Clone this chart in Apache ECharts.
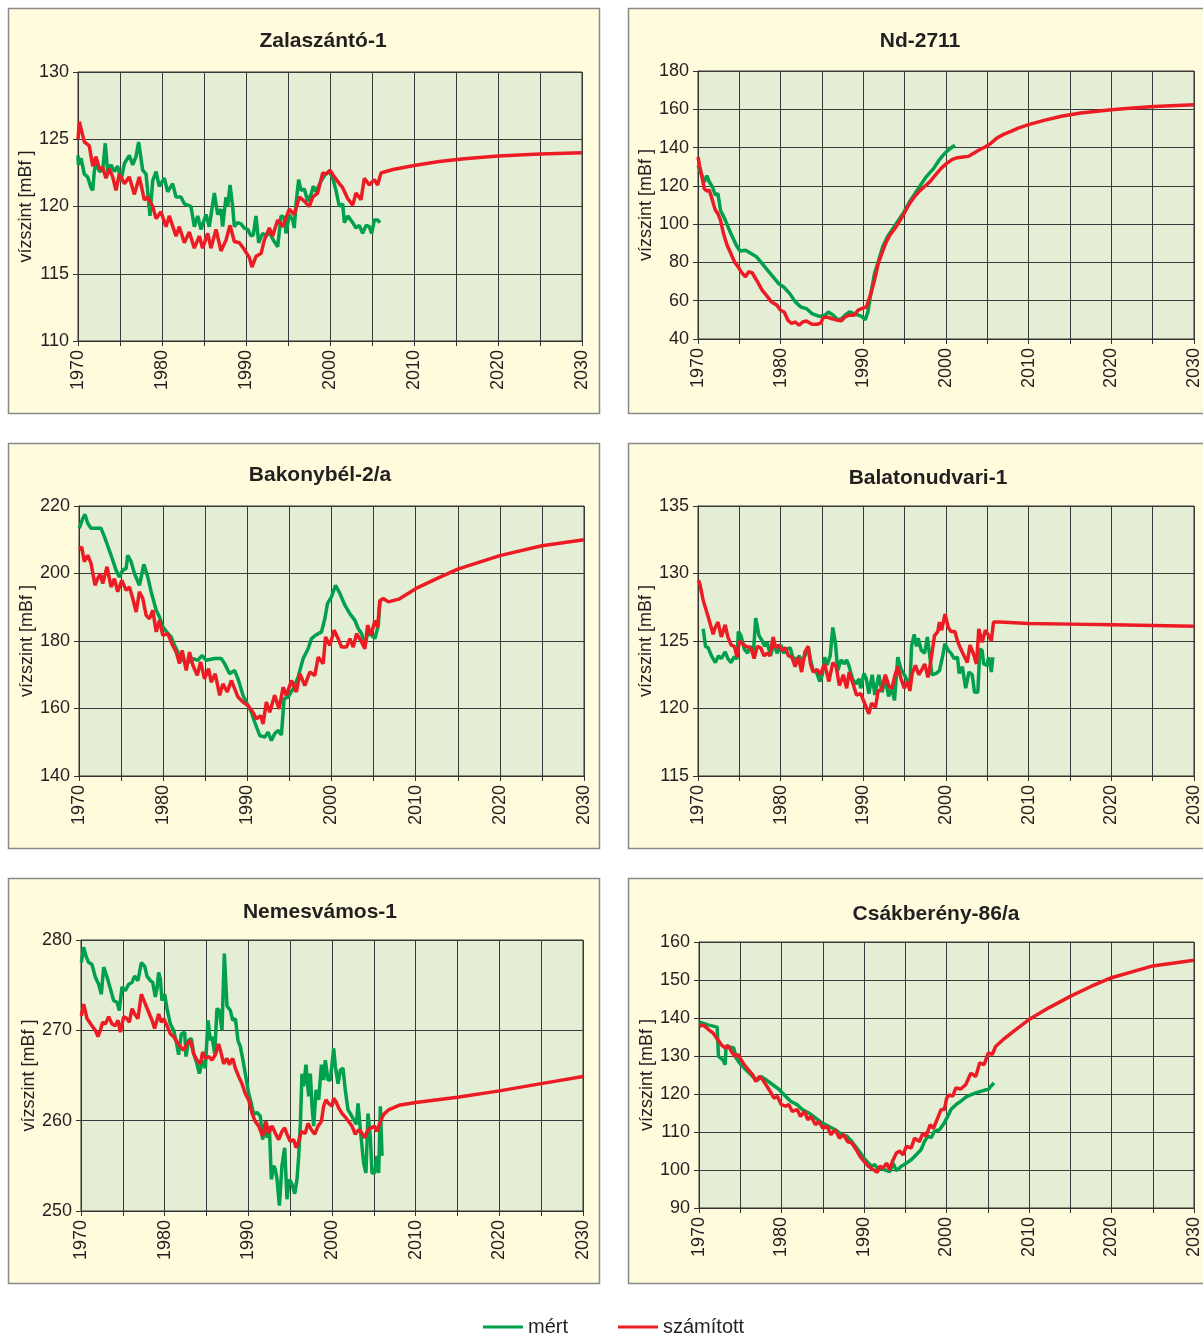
<!DOCTYPE html>
<html><head><meta charset="utf-8">
<script src="https://cdn.jsdelivr.net/npm/echarts@6.0.0/dist/echarts.min.js"></script>
<style>html,body{margin:0;padding:0;background:#fff}#c{width:1203px;height:1334px}</style>
</head><body><div id="c"></div>
<script>
// ---------- DATA: [year, water level in mBf] ----------
const xTicks = [1970, 1980, 1990, 2000, 2010, 2020, 2030];
const seriesNames = ['mért', 'számított'];
const panelTitles = ['Zalaszántó-1', 'Nd-2711', 'Bakonybél-2/a', 'Balatonudvari-1', 'Nemesvámos-1', 'Csákberény-86/a'];
const yRanges = [[110,130,5],[40,180,20],[140,220,20],[115,135,5],[250,280,10],[90,160,10]];

const zalaszantoMert = [[1970.0,123.8],[1970.05,123.1],[1970.36,123.6],[1970.75,122.4],[1971.15,122.2],[1971.55,121.4],[1971.75,121.2],[1971.94,122.6],[1972.14,123.3],[1972.54,122.6],[1972.94,122.7],[1973.25,124.7],[1973.53,122.6],[1973.93,123.1],[1974.33,122.6],[1974.72,123.0],[1975.12,121.9],[1975.52,123.2],[1976.11,123.8],[1976.51,123.1],[1976.90,123.7],[1977.22,124.8],[1977.70,122.7],[1978.10,122.4],[1978.57,119.3],[1978.89,121.9],[1979.29,122.6],[1979.68,121.5],[1980.28,122.1],[1980.67,121.1],[1981.27,121.7],[1981.67,120.7],[1982.26,120.7],[1982.66,120.2],[1983.06,120.1],[1983.45,120.0],[1983.85,118.5],[1984.25,119.3],[1984.64,118.3],[1985.24,119.4],[1985.63,118.5],[1986.23,121.0],[1986.63,119.4],[1987.02,119.8],[1987.22,118.5],[1987.62,120.7],[1987.82,120.0],[1988.10,121.6],[1988.41,120.0],[1988.61,118.5],[1989.01,118.8],[1989.40,118.7],[1989.80,118.4],[1990.20,118.3],[1990.60,117.8],[1990.87,117.9],[1991.19,119.3],[1991.51,117.3],[1991.98,118.0],[1992.38,117.8],[1992.78,118.1],[1993.17,117.6],[1993.77,117.0],[1994.17,119.3],[1994.56,119.2],[1994.76,118.0],[1995.16,119.4],[1995.56,119.0],[1995.75,118.4],[1995.95,120.2],[1996.27,122.0],[1996.55,121.2],[1996.94,121.3],[1997.34,120.4],[1997.74,120.9],[1998.02,121.5],[1998.33,121.1],[1998.93,121.9],[1999.44,122.4],[1999.92,122.6],[2000.32,122.1],[2000.71,121.2],[2001.11,120.0],[2001.51,120.2],[2001.71,118.8],[2002.10,119.3],[2002.70,118.8],[2003.10,118.4],[2003.49,118.6],[2003.89,118.0],[2004.29,118.6],[2004.68,118.5],[2004.96,118.0],[2005.28,119.0],[2005.67,119.0],[2005.95,118.8]];
const zalaszantoSzamitott = [[1970.0,125.0],[1970.16,126.3],[1970.75,124.8],[1971.35,124.5],[1971.75,123.0],[1972.14,123.7],[1972.54,122.8],[1972.94,122.9],[1973.33,122.1],[1973.73,122.8],[1974.13,122.2],[1974.52,121.2],[1974.92,122.4],[1975.52,121.7],[1976.11,122.2],[1976.71,120.9],[1977.30,122.2],[1977.90,120.5],[1978.29,120.7],[1978.89,120.0],[1979.29,119.1],[1979.88,119.6],[1980.48,118.5],[1980.87,119.3],[1981.67,117.8],[1982.06,118.5],[1982.66,117.3],[1983.25,118.1],[1983.85,116.9],[1984.44,117.8],[1984.84,116.9],[1985.44,118.0],[1985.83,116.9],[1986.43,118.3],[1987.02,116.7],[1987.62,117.5],[1988.10,118.6],[1988.61,117.4],[1989.21,117.3],[1989.80,116.8],[1990.40,116.2],[1990.71,115.5],[1991.19,116.3],[1991.79,116.5],[1992.18,117.5],[1992.78,118.4],[1993.17,117.8],[1993.77,119.0],[1994.37,118.5],[1995.16,119.8],[1995.75,119.4],[1996.35,120.7],[1996.94,120.4],[1997.54,120.0],[1997.94,120.7],[1998.53,121.0],[1999.13,122.5],[1999.52,122.4],[2000.00,122.7],[2000.52,122.2],[2001.11,121.7],[2001.51,121.4],[2002.10,120.6],[2002.70,120.1],[2003.10,121.0],[2003.69,120.5],[2004.09,122.1],[2004.68,121.6],[2005.28,122.0],[2005.67,121.6],[2006.07,122.5],[2006.67,122.6],[2007.5,122.75],[2010,123.05],[2013,123.35],[2016,123.55],[2020,123.75],[2025,123.9],[2030,124.0]];

const nd2711Mert = [[1970.0,130.7],[1970.40,126.3],[1970.76,122.0],[1971.07,125.4],[1971.38,122.0],[1971.74,119.5],[1972.10,115.2],[1972.41,116.0],[1972.72,107.3],[1973.30,102.1],[1973.97,95.1],[1974.64,89.0],[1975.08,86.0],[1975.75,86.4],[1976.42,84.7],[1977.09,82.9],[1977.76,79.4],[1978.43,75.9],[1979.09,72.4],[1979.76,68.9],[1980.43,66.9],[1981.10,63.7],[1981.77,59.4],[1982.44,56.7],[1983.11,55.9],[1983.78,53.3],[1984.67,51.8],[1985.34,52.4],[1985.78,54.1],[1986.36,52.4],[1986.90,50.1],[1987.34,50.6],[1987.79,52.4],[1988.32,54.1],[1989.13,52.9],[1989.79,51.8],[1990.24,50.1],[1990.55,54.1],[1990.91,63.7],[1991.35,74.2],[1991.80,80.3],[1992.33,88.1],[1992.92,93.4],[1993.58,97.7],[1994.25,102.1],[1994.92,106.4],[1995.59,111.7],[1996.26,116.0],[1996.93,120.4],[1997.60,124.7],[1998.49,129.0],[1999.16,133.4],[1999.83,136.9],[2000.50,139.5],[2001.07,141.2]];
const nd2711Szamitott = [[1970.0,135.1],[1970.18,130.7],[1970.49,124.6],[1970.76,118.5],[1971.07,117.3],[1971.38,117.7],[1971.74,112.5],[1972.10,107.3],[1972.41,105.5],[1972.72,102.1],[1973.08,95.1],[1973.52,89.0],[1973.97,84.7],[1974.41,80.3],[1974.86,77.7],[1975.22,75.1],[1975.75,72.4],[1976.11,75.1],[1976.55,74.6],[1977.09,70.7],[1977.76,65.5],[1978.43,62.0],[1978.87,59.4],[1979.54,57.7],[1979.99,55.0],[1980.43,54.1],[1980.88,49.8],[1981.32,48.1],[1981.77,48.9],[1982.22,47.2],[1982.66,48.9],[1983.11,49.4],[1983.78,47.7],[1984.44,47.7],[1984.89,48.4],[1985.11,51.1],[1985.56,51.5],[1986.23,50.6],[1986.90,49.8],[1987.34,49.5],[1987.79,51.5],[1988.23,52.4],[1988.90,52.4],[1989.35,55.0],[1989.79,55.9],[1990.37,56.7],[1990.91,63.7],[1991.35,70.7],[1991.80,79.4],[1992.24,84.7],[1992.69,89.9],[1993.23,94.3],[1993.81,97.7],[1994.34,101.2],[1994.92,105.5],[1995.59,110.8],[1996.17,114.2],[1996.71,116.9],[1997.37,119.5],[1998.04,122.1],[1998.71,125.6],[1999.38,129.0],[2000.05,131.6],[2000.72,133.7],[2001.39,134.7],[2002.06,135.1],[2002.72,135.4],[2003.39,137.2],[2004.06,138.9],[2004.73,140.3],[2005.40,142.1],[2006.07,144.7],[2006.96,146.9],[2007.85,148.5],[2008.74,150.2],[2009.99,152.0],[2011.86,154.2],[2014.09,156.5],[2016.32,158.1],[2019.98,159.8],[2023.01,160.8],[2025.24,161.5],[2030.0,162.4]];

const bakonybelMert = [[1970.04,213.4],[1970.44,216.3],[1970.71,217.5],[1971.03,214.9],[1971.43,213.4],[1972.62,213.4],[1973.02,210.9],[1973.81,205.4],[1974.40,201.0],[1974.80,199.0],[1975.20,201.0],[1975.60,201.5],[1975.79,205.4],[1976.19,203.5],[1976.59,200.0],[1977.18,196.5],[1977.70,202.7],[1978.17,199.0],[1978.57,194.6],[1979.17,189.1],[1979.56,187.1],[1979.96,184.2],[1980.56,182.2],[1980.95,181.2],[1981.35,178.7],[1981.94,175.7],[1982.54,173.8],[1983.13,173.8],[1983.53,174.8],[1984.13,174.3],[1984.60,175.7],[1985.12,174.3],[1986.11,174.8],[1986.90,174.8],[1987.30,173.3],[1987.90,170.3],[1988.49,171.3],[1988.89,168.8],[1989.48,163.9],[1990.08,160.9],[1990.48,158.9],[1990.87,156.0],[1991.47,152.0],[1992.06,151.5],[1992.46,153.0],[1992.86,150.5],[1993.25,152.5],[1993.65,153.5],[1994.05,152.2],[1994.37,162.9],[1994.84,163.4],[1995.44,165.8],[1996.03,169.3],[1996.63,174.8],[1997.22,177.7],[1997.62,180.7],[1998.10,181.7],[1998.81,182.7],[1999.21,186.6],[1999.52,191.1],[2000.00,193.1],[2000.48,196.5],[2000.99,194.1],[2001.59,190.6],[2002.18,188.1],[2002.78,186.1],[2003.17,183.7],[2003.57,182.2],[2003.97,178.7],[2004.29,182.2],[2004.76,181.7],[2005.16,180.7],[2005.56,184.7],[2005.75,191.6],[2005.95,192.0]];
const bakonybelSzamitott = [[1970.04,206.9],[1970.32,207.9],[1970.63,203.5],[1971.03,205.4],[1971.43,203.0],[1971.90,196.5],[1972.22,198.5],[1972.54,200.0],[1972.82,197.0],[1973.33,202.0],[1973.81,196.0],[1974.21,198.5],[1974.60,194.6],[1975.08,198.0],[1975.60,195.0],[1975.99,196.0],[1976.39,192.6],[1976.79,188.6],[1977.18,194.6],[1977.58,192.6],[1977.98,187.6],[1978.37,186.6],[1978.77,189.1],[1979.17,182.7],[1979.56,186.1],[1979.96,181.7],[1980.56,182.2],[1981.03,179.2],[1981.55,176.7],[1981.94,173.3],[1982.26,177.2],[1982.74,171.3],[1983.13,176.7],[1983.53,172.8],[1984.05,169.8],[1984.44,173.8],[1984.92,168.8],[1985.40,171.8],[1985.71,167.8],[1986.19,170.3],[1986.71,163.9],[1987.10,167.3],[1987.62,164.9],[1988.10,168.3],[1988.49,165.9],[1988.89,163.4],[1989.48,161.9],[1990.08,160.9],[1990.67,158.9],[1991.07,156.9],[1991.59,157.9],[1991.87,155.4],[1992.26,161.9],[1992.66,158.9],[1993.25,163.9],[1993.77,159.9],[1994.25,166.3],[1994.64,163.9],[1995.24,168.3],[1995.83,164.9],[1996.23,170.3],[1996.83,166.8],[1997.42,170.8],[1998.02,169.8],[1998.41,175.2],[1999.01,173.3],[1999.29,181.2],[1999.80,178.7],[2000.32,183.2],[2000.79,180.7],[2001.19,178.2],[2001.79,178.2],[2002.18,180.7],[2002.58,178.2],[2002.98,182.2],[2003.57,179.7],[2003.97,177.7],[2004.29,184.7],[2004.68,181.7],[2005.16,186.1],[2005.48,184.0],[2005.75,192.0],[2006.15,192.6],[2006.75,191.6],[2008,192.4],[2010,195.5],[2012.5,198.5],[2015,201.3],[2020,205.3],[2025,208.2],[2030,210.0]];

const balatonudvariMert = [[1970.63,125.9],[1970.91,124.6],[1971.23,124.5],[1971.63,123.9],[1972.10,123.4],[1972.50,123.9],[1972.82,123.7],[1973.29,124.2],[1973.61,123.7],[1974.01,123.4],[1974.33,123.8],[1974.72,123.7],[1974.88,125.7],[1975.20,125.4],[1975.60,124.4],[1975.99,124.1],[1976.31,124.6],[1976.71,124.2],[1976.98,126.7],[1977.38,125.4],[1977.78,125.0],[1978.06,124.6],[1978.37,124.9],[1978.77,123.9],[1979.17,124.8],[1979.56,124.1],[1980.04,124.7],[1980.36,124.1],[1980.75,124.4],[1981.15,124.5],[1981.47,123.8],[1981.87,123.6],[1982.26,123.9],[1982.54,123.4],[1982.94,123.9],[1983.33,124.6],[1983.61,123.6],[1983.93,122.8],[1984.33,122.7],[1984.72,122.0],[1985.04,122.5],[1985.32,123.8],[1985.60,123.2],[1985.99,123.9],[1986.31,126.0],[1986.63,124.8],[1986.90,122.8],[1987.30,123.6],[1987.70,123.3],[1987.98,123.6],[1988.29,123.1],[1988.69,122.2],[1989.09,121.8],[1989.48,122.2],[1989.68,121.5],[1990.08,122.6],[1990.36,122.2],[1990.67,121.1],[1991.07,122.5],[1991.39,121.0],[1991.87,122.5],[1992.26,121.2],[1992.66,122.2],[1993.06,120.9],[1993.45,121.5],[1993.77,120.6],[1994.17,123.8],[1994.56,122.9],[1994.96,122.5],[1995.36,122.0],[1995.63,121.6],[1995.83,124.6],[1996.15,125.5],[1996.43,124.6],[1996.63,125.2],[1997.02,124.3],[1997.42,124.1],[1997.74,125.3],[1998.02,124.0],[1998.29,122.5],[1998.81,122.6],[1999.21,122.8],[1999.60,123.9],[1999.88,124.8],[2000.28,124.3],[2000.60,124.1],[2000.99,123.7],[2001.39,123.8],[2001.59,122.6],[2001.98,123.1],[2002.38,121.5],[2002.78,122.7],[2003.17,122.5],[2003.45,121.2],[2003.85,121.2],[2004.09,124.4],[2004.37,124.3],[2004.56,123.3],[2004.96,123.2],[2005.16,123.8],[2005.48,122.7],[2005.67,123.8]];
const balatonudvariSzamitott = [[1970.04,129.5],[1970.24,129.2],[1970.63,128.0],[1971.23,126.8],[1971.83,125.5],[1972.02,125.9],[1972.42,126.4],[1972.82,125.3],[1973.29,126.2],[1973.61,125.3],[1974.01,124.7],[1974.40,124.6],[1974.72,123.8],[1975.00,125.0],[1975.40,124.8],[1975.79,124.6],[1976.39,124.5],[1976.79,123.7],[1977.18,124.6],[1977.58,124.5],[1977.98,123.9],[1978.37,124.1],[1978.69,123.9],[1979.09,125.3],[1979.37,124.5],[1979.76,124.7],[1980.16,124.3],[1980.56,124.5],[1980.95,123.9],[1981.35,123.8],[1981.75,123.1],[1982.14,123.8],[1982.54,122.7],[1982.94,124.2],[1983.33,124.6],[1983.61,123.3],[1983.93,122.7],[1984.40,122.9],[1984.80,122.5],[1985.32,123.3],[1985.83,122.0],[1986.31,123.4],[1986.71,123.1],[1987.10,121.7],[1987.58,122.5],[1987.98,121.5],[1988.29,122.7],[1988.77,121.8],[1989.17,121.0],[1989.68,121.1],[1990.08,120.5],[1990.67,119.6],[1990.99,120.4],[1991.47,120.1],[1991.79,121.3],[1992.18,121.4],[1992.66,122.5],[1993.13,121.6],[1993.45,121.5],[1993.85,122.5],[1994.17,123.1],[1994.56,122.2],[1994.96,121.5],[1995.36,122.0],[1995.63,121.3],[1995.91,122.6],[1996.31,123.2],[1996.71,122.5],[1997.10,122.9],[1997.42,123.3],[1997.82,122.3],[1998.21,123.7],[1998.61,125.4],[1999.01,125.7],[1999.21,126.4],[1999.48,125.8],[1999.88,127.0],[2000.28,126.0],[2000.60,125.7],[2001.07,125.7],[2001.39,125.0],[2001.79,124.4],[2002.18,123.9],[2002.58,123.4],[2002.90,124.7],[2003.29,124.1],[2003.69,123.3],[2003.97,125.9],[2004.37,124.9],[2004.76,125.8],[2005.16,125.4],[2005.48,125.0],[2005.75,126.4],[2006.55,126.4],[2010,126.3],[2015,126.25],[2020,126.2],[2025,126.15],[2030,126.1]];

const nemesvamosMert = [[1970.04,277.5],[1970.32,279.2],[1970.60,278.2],[1970.92,277.5],[1971.31,277.3],[1971.71,275.9],[1972.11,275.1],[1972.43,274.0],[1972.71,277.0],[1973.11,275.9],[1973.51,274.6],[1973.90,273.3],[1974.30,273.1],[1974.58,272.2],[1974.90,274.8],[1975.30,274.4],[1975.70,275.1],[1976.10,275.3],[1976.41,276.0],[1976.81,275.5],[1977.21,277.5],[1977.61,277.1],[1977.89,276.0],[1978.29,275.5],[1978.57,275.3],[1978.88,273.7],[1979.08,274.6],[1979.28,276.4],[1979.48,275.7],[1979.68,273.3],[1980.00,274.0],[1980.28,272.4],[1980.68,270.7],[1981.08,270.0],[1981.35,268.9],[1981.67,267.3],[1981.99,269.6],[1982.39,269.8],[1982.55,267.1],[1982.87,268.9],[1983.19,269.1],[1983.47,267.4],[1983.86,266.3],[1984.14,265.2],[1984.54,266.7],[1984.86,265.8],[1985.18,271.1],[1985.46,268.9],[1985.66,269.3],[1985.98,267.4],[1986.25,272.4],[1986.53,272.2],[1986.85,270.0],[1987.13,278.5],[1987.45,272.7],[1987.85,272.2],[1988.13,271.1],[1988.45,271.3],[1988.76,268.9],[1989.04,268.2],[1989.32,266.9],[1989.64,265.2],[1990.04,263.0],[1990.36,261.9],[1990.64,260.7],[1991.04,260.9],[1991.43,260.5],[1991.71,257.9],[1992.03,259.9],[1992.23,258.1],[1992.51,259.4],[1992.75,253.5],[1993.03,255.0],[1993.23,254.6],[1993.43,253.5],[1993.71,250.6],[1994.02,255.0],[1994.34,257.0],[1994.62,251.3],[1994.90,253.5],[1995.22,253.0],[1995.54,251.9],[1995.82,253.5],[1996.02,256.1],[1996.22,259.7],[1996.41,265.2],[1996.61,263.8],[1996.89,266.2],[1997.21,262.7],[1997.41,265.2],[1997.61,261.6],[1997.81,259.4],[1998.09,263.4],[1998.41,262.3],[1998.73,266.2],[1999.00,264.5],[1999.20,266.7],[1999.52,264.5],[1999.80,264.5],[2000.20,268.0],[2000.40,266.0],[2000.72,264.1],[2001.00,265.6],[2001.31,265.8],[2001.59,263.4],[2001.91,261.2],[2002.19,260.8],[2002.59,260.1],[2002.91,259.6],[2003.11,261.9],[2003.39,259.0],[2003.78,255.3],[2004.06,254.2],[2004.30,260.8],[2004.58,258.3],[2004.78,254.2],[2005.10,254.2],[2005.38,256.1],[2005.58,254.2],[2005.78,261.6],[2005.98,256.1]];
const nemesvamosSzamitott = [[1970.04,271.6],[1970.32,272.9],[1970.72,271.3],[1971.31,270.5],[1971.71,270.0],[1972.03,269.3],[1972.31,270.0],[1972.59,270.9],[1972.91,270.7],[1973.31,271.5],[1973.71,270.7],[1974.10,270.5],[1974.42,271.1],[1974.70,269.8],[1975.10,271.5],[1975.50,271.3],[1975.78,270.9],[1976.10,272.4],[1976.41,271.8],[1976.81,271.3],[1977.21,274.0],[1977.61,273.1],[1978.09,272.0],[1978.49,271.1],[1978.80,270.2],[1979.28,271.8],[1979.60,270.9],[1979.88,271.3],[1980.28,270.5],[1980.68,269.6],[1981.08,269.3],[1981.47,268.7],[1981.87,268.2],[1982.27,267.8],[1982.67,268.5],[1983.07,268.9],[1983.47,267.4],[1983.86,266.7],[1984.26,266.3],[1984.54,267.6],[1984.86,266.9],[1985.26,267.1],[1985.66,266.7],[1986.06,267.3],[1986.45,268.5],[1986.77,267.4],[1987.05,266.3],[1987.45,266.9],[1987.73,266.2],[1988.13,266.9],[1988.45,265.8],[1988.84,264.9],[1989.24,264.1],[1989.64,263.0],[1990.04,262.3],[1990.44,260.8],[1990.84,259.9],[1991.24,259.4],[1991.71,258.3],[1992.11,259.9],[1992.43,258.6],[1992.83,259.4],[1993.23,258.6],[1993.63,257.9],[1994.02,258.8],[1994.34,259.2],[1994.62,258.5],[1995.02,257.7],[1995.42,257.9],[1995.70,257.0],[1996.02,257.7],[1996.33,258.8],[1996.81,258.6],[1997.13,259.7],[1997.53,259.0],[1997.93,258.5],[1998.33,259.4],[1998.73,259.9],[1999.00,261.6],[1999.28,262.3],[1999.60,261.9],[2000.00,261.6],[2000.20,262.5],[2000.48,262.1],[2000.80,261.4],[2001.20,260.8],[2001.59,260.4],[2001.99,259.9],[2002.39,259.4],[2002.79,258.5],[2003.19,259.0],[2003.59,258.6],[2003.90,258.1],[2004.30,259.0],[2004.70,259.2],[2005.10,259.4],[2005.38,258.8],[2005.78,259.9],[2006.18,260.7],[2006.77,261.2],[2008,261.7],[2010,262.0],[2015,262.6],[2020,263.3],[2025,264.1],[2030,264.9]];

const csakberenyMert = [[1970.08,138.9],[1971.08,138.2],[1972.20,137.6],[1972.36,129.9],[1972.89,129.0],[1973.17,127.7],[1973.29,132.7],[1973.69,132.4],[1974.21,132.1],[1974.49,129.5],[1974.89,128.2],[1975.49,126.8],[1976.09,125.5],[1976.69,124.2],[1977.09,123.6],[1977.49,124.6],[1978.10,123.8],[1978.90,122.5],[1979.70,121.2],[1980.50,119.4],[1981.10,118.1],[1981.90,117.2],[1982.51,115.9],[1983.31,115.0],[1984.11,113.7],[1984.91,112.4],[1985.71,111.5],[1986.51,110.6],[1987.31,109.3],[1987.92,108.9],[1988.52,107.5],[1989.12,105.8],[1989.72,104.0],[1990.32,102.3],[1990.92,101.0],[1991.32,101.4],[1991.72,100.1],[1992.12,100.5],[1992.65,99.9],[1993.13,99.6],[1993.53,101.8],[1993.93,99.8],[1994.53,101.0],[1995.13,101.8],[1995.73,102.7],[1996.33,104.0],[1996.93,105.4],[1997.33,107.5],[1997.74,108.9],[1998.14,108.5],[1998.54,110.2],[1999.14,110.6],[1999.74,112.4],[2000.14,114.1],[2000.54,115.9],[2001.14,117.2],[2001.74,118.1],[2002.34,119.2],[2002.95,119.8],[2003.55,120.3],[2004.15,120.7],[2004.75,121.1],[2005.07,121.2],[2005.35,122.0],[2005.76,122.9]];
const csakberenySzamitott = [[1970.08,137.8],[1970.48,138.2],[1971.08,137.1],[1971.68,136.1],[1972.28,134.3],[1972.69,133.0],[1973.17,132.1],[1973.57,132.7],[1973.97,131.0],[1974.37,129.9],[1974.77,130.4],[1975.09,129.0],[1975.49,127.7],[1975.97,126.4],[1976.49,125.1],[1976.89,123.3],[1977.29,124.6],[1977.70,123.8],[1978.10,122.5],[1978.62,120.7],[1979.10,118.9],[1979.50,119.4],[1979.98,117.2],[1980.50,116.8],[1980.90,117.2],[1981.30,115.4],[1981.90,115.9],[1982.30,114.1],[1982.79,115.4],[1983.19,113.2],[1983.59,114.1],[1984.11,111.9],[1984.51,112.8],[1985.03,111.0],[1985.51,111.5],[1985.99,109.3],[1986.51,110.6],[1987.03,108.4],[1987.52,109.3],[1988.00,107.5],[1988.52,107.1],[1989.04,105.4],[1989.52,103.6],[1990.00,102.3],[1990.52,101.0],[1991.12,100.1],[1991.60,99.4],[1991.92,101.0],[1992.32,100.5],[1992.73,101.8],[1993.13,100.1],[1993.45,102.3],[1993.93,104.5],[1994.33,105.0],[1994.73,104.0],[1995.13,106.2],[1995.73,105.8],[1996.13,108.4],[1996.73,107.5],[1997.13,109.7],[1997.53,108.9],[1998.02,111.9],[1998.42,111.0],[1998.94,113.7],[1999.34,115.9],[1999.74,115.9],[2000.02,118.9],[2000.34,119.8],[2000.74,119.4],[2001.14,121.6],[2001.74,121.3],[2002.34,122.5],[2002.95,125.5],[2003.55,124.6],[2004.03,128.2],[2004.55,127.7],[2005.07,130.8],[2005.55,130.4],[2005.95,132.5],[2006.75,134.1],[2008,136.3],[2010,139.6],[2012.5,142.8],[2015,145.7],[2017.5,148.3],[2020,150.6],[2025,153.7],[2030,155.2]];

const mertSeries = [zalaszantoMert, nd2711Mert, bakonybelMert, balatonudvariMert, nemesvamosMert, csakberenyMert];
const szamitottSeries = [zalaszantoSzamitott, nd2711Szamitott, bakonybelSzamitott, balatonudvariSzamitott, nemesvamosSzamitott, csakberenySzamitott];

// ---------- LAYOUT ----------
const gridRects = [
  {left:78, top:72, width:504, height:269},
  {left:698, top:71, width:500, height:268},
  {left:79, top:506, width:505, height:270},
  {left:698, top:506, width:502, height:270},
  {left:81, top:940, width:502, height:271},
  {left:699, top:942, width:499, height:266}
];
const boxRects = [[8,8,591,405],[628,8,600,405],[8,443,591,405],[628,443,600,405],[8,878,591,405],[628,878,600,405]];
const titlePos = [[318,38],[915,38],[315,472],[923,475],[315,909],[931,911]];

const FONT = '"Liberation Sans", Arial, Helvetica, sans-serif';
const GREEN = '#00A04C', RED = '#ED1C24';

const chart = echarts.init(document.getElementById('c'), null, {renderer:'canvas'});

const option = {
  animation: false,
  backgroundColor: '#ffffff',
  textStyle: {fontFamily: FONT},
  graphic: boxRects.map(b => ({
    type:'rect', z:-10, silent:true,
    shape:{x:b[0]+0.5, y:b[1]+0.5, width:b[2], height:b[3]},
    style:{fill:'#FFFBDD', stroke:'#8A8A8A', lineWidth:1.5}
  })),
  title: panelTitles.map((t,i) => ({
    text: t, left: titlePos[i][0], top: titlePos[i][1]-12, textAlign:'center',
    textStyle:{fontFamily:FONT, fontSize:21, fontWeight:'bold', color:'#231F20'}
  })),
  legend: {
    data: seriesNames, left: 478, top: 1312, icon:'rect', itemWidth:40, itemHeight:3, itemGap:50,
    textStyle:{fontFamily:FONT, fontSize:20, color:'#231F20'}
  },
  grid: gridRects.map(g => Object.assign({show:true, backgroundColor:'#E4EED4', borderColor:'#333', borderWidth:1, containLabel:false}, g)),
  xAxis: gridRects.map((g,i) => ({
    type:'value', gridIndex:i, min:1970, max:2030, interval:5,
    axisLine:{show:true, lineStyle:{color:'#333', width:1}},
    axisTick:{show:true, length:5, lineStyle:{color:'#333'}},
    splitLine:{show:true, lineStyle:{color:'#3a3a3a', width:1}},
    axisLabel:{rotate:90, margin:9, fontSize:18, color:'#231F20', fontFamily:FONT, showMinLabel:true, showMaxLabel:true,
      formatter: v => xTicks.indexOf(v) >= 0 ? String(v) : ''}
  })),
  yAxis: yRanges.map((r,i) => ({
    type:'value', gridIndex:i, min:r[0], max:r[1], interval:r[2],
    name:'vízszint [mBf ]', nameLocation:'middle', nameGap:43,
    nameTextStyle:{fontSize:18, color:'#231F20', fontFamily:FONT},
    axisLine:{show:true, lineStyle:{color:'#333', width:1}},
    axisTick:{show:true, length:5, lineStyle:{color:'#333'}},
    splitLine:{show:true, lineStyle:{color:'#3a3a3a', width:1}},
    axisLabel:{margin:9, fontSize:18, color:'#231F20', fontFamily:FONT, showMinLabel:true, showMaxLabel:true}
  })),
  series: []
};

for (let i = 0; i < 6; i++) {
  option.series.push({
    name: seriesNames[0], type:'line', xAxisIndex:i, yAxisIndex:i, data: mertSeries[i],
    showSymbol:false, symbol:'none', color:GREEN, lineStyle:{color:GREEN, width:3.5}, z:3
  });
  option.series.push({
    name: seriesNames[1], type:'line', xAxisIndex:i, yAxisIndex:i, data: szamitottSeries[i],
    showSymbol:false, symbol:'none', color:RED, lineStyle:{color:RED, width:3.5}, z:4
  });
}

chart.setOption(option);
</script>
</body></html>
